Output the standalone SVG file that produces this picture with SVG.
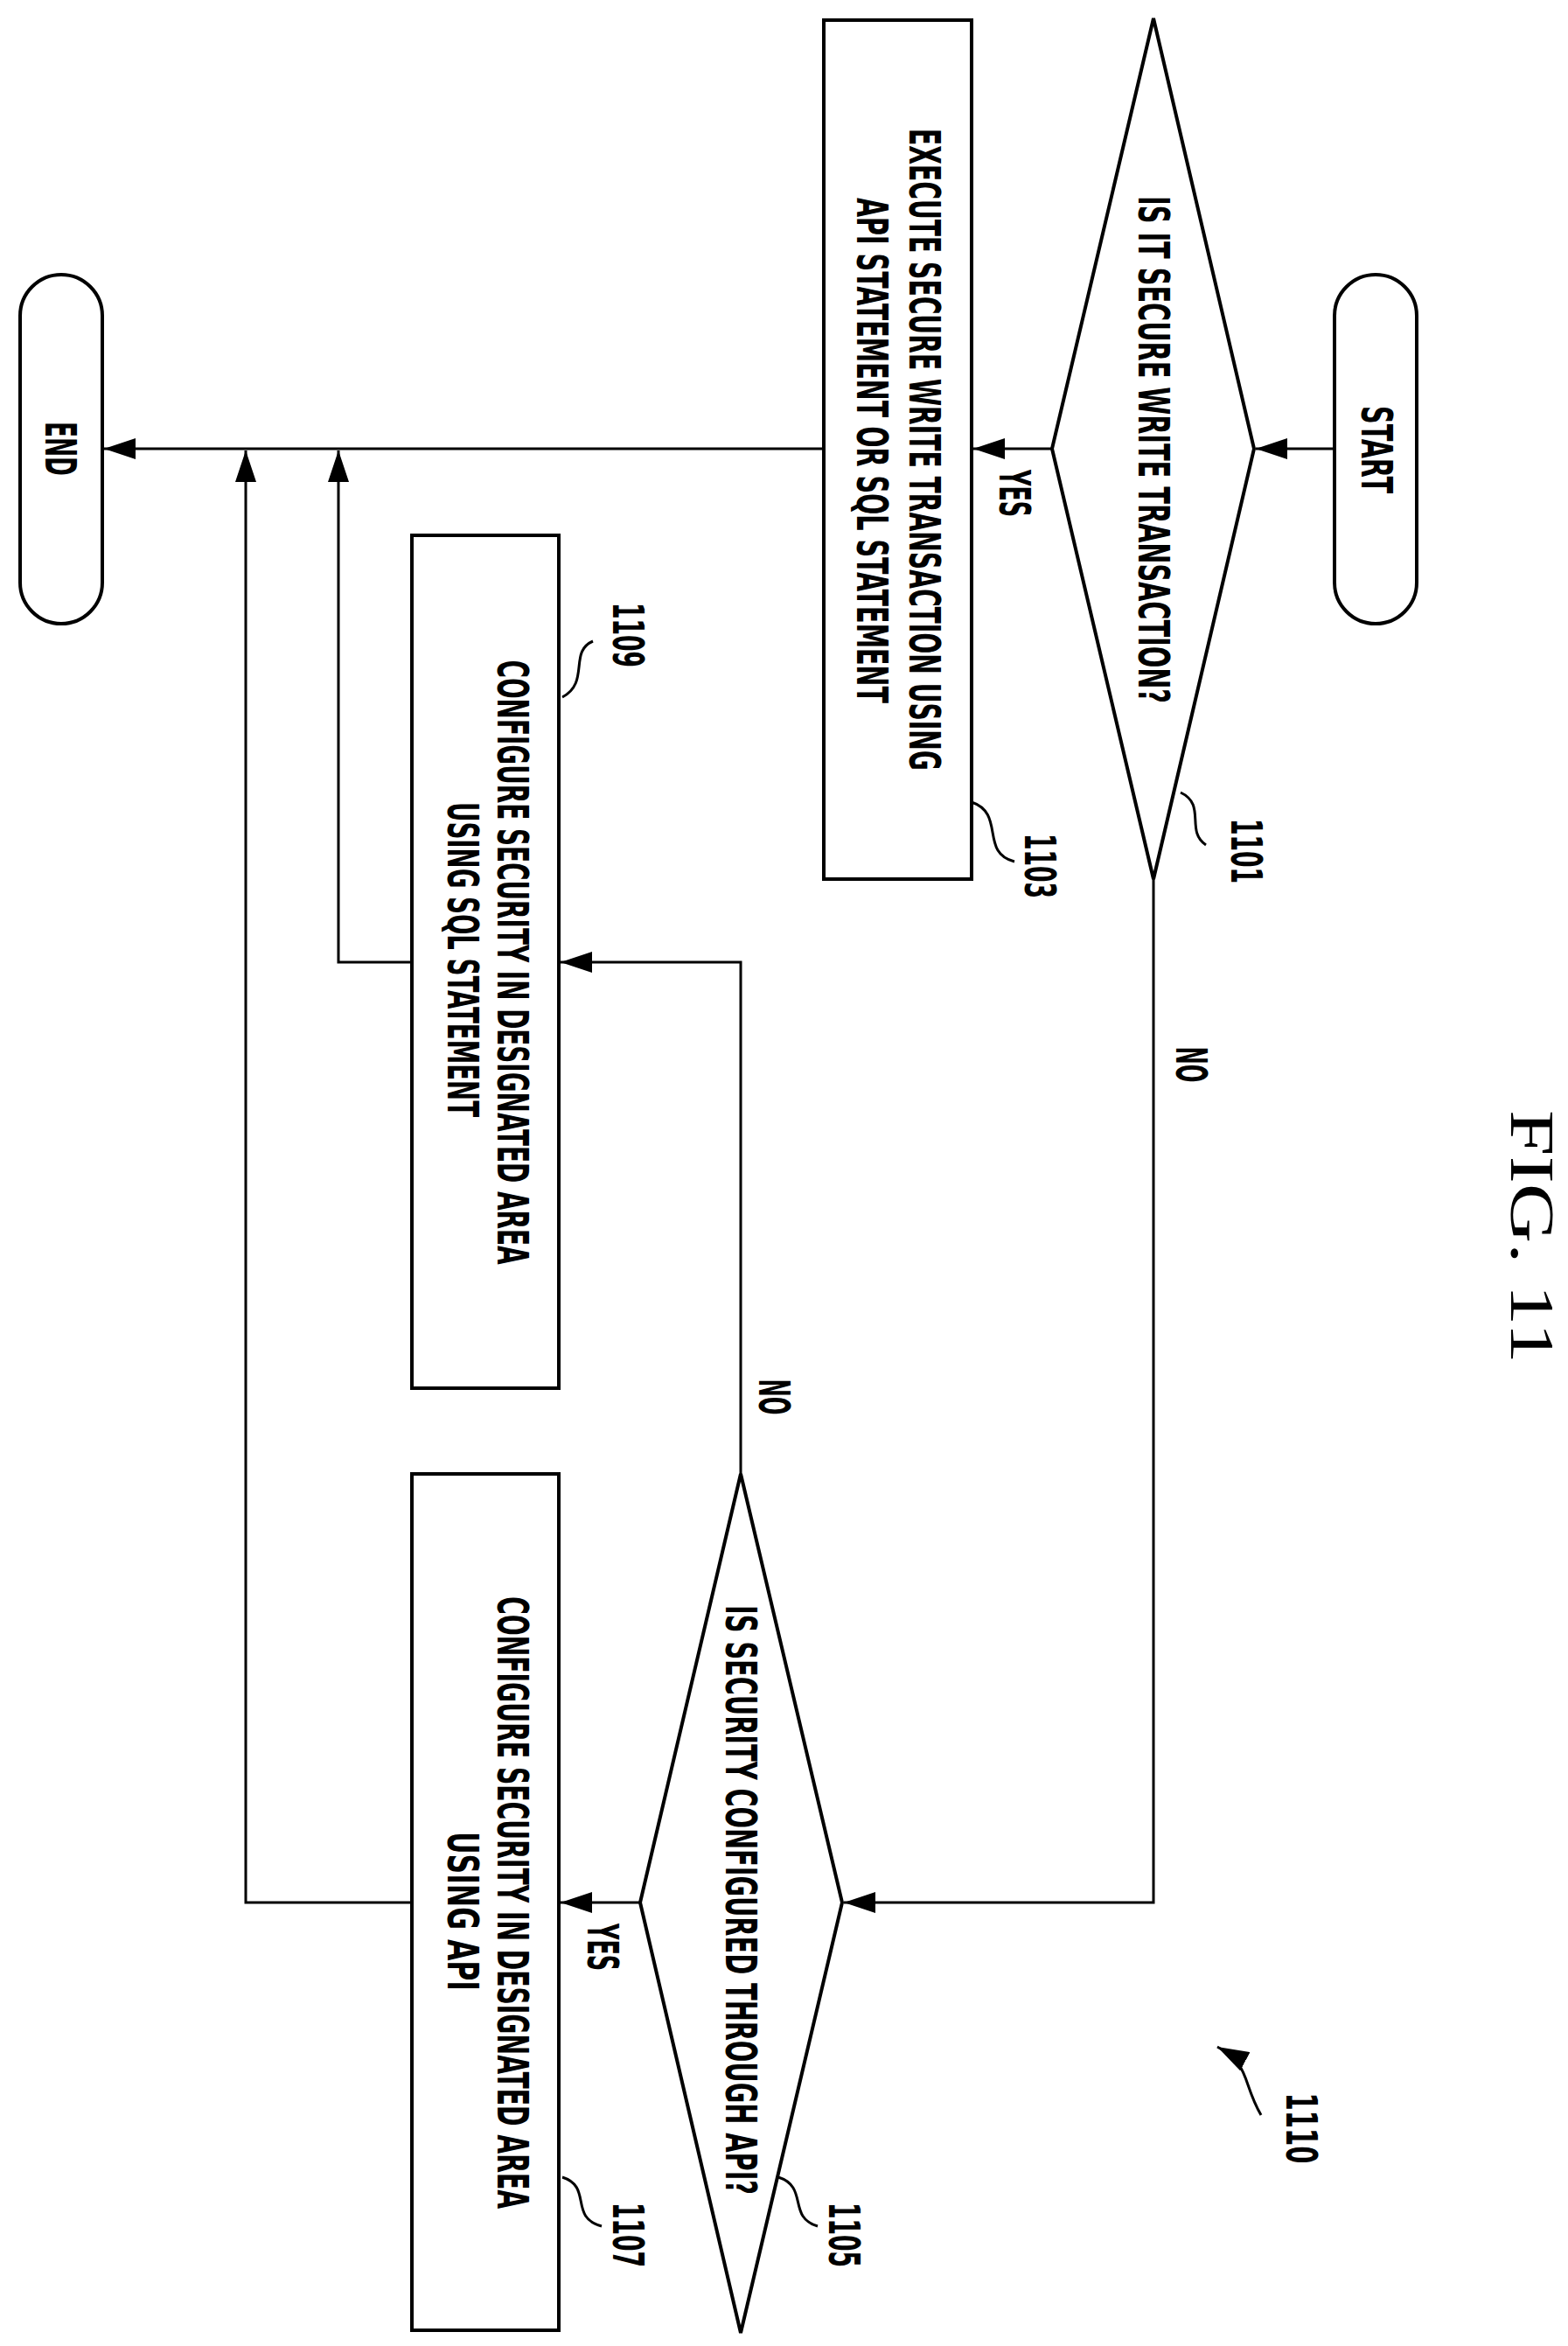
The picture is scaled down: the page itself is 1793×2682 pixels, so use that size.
<svg xmlns="http://www.w3.org/2000/svg" width="1793" height="2682" viewBox="0 0 1793 2682">
<style>
.s{fill:none;stroke:#000;stroke-width:4}
.t{font-family:"DejaVu Sans Condensed","DejaVu Sans",sans-serif;font-weight:bold;font-size:50px;text-anchor:middle;dominant-baseline:central}
.c{stroke:#000;stroke-width:3;fill:none}
</style>
<defs>
<marker id="a" markerWidth="12" markerHeight="10" refX="11" refY="5" orient="auto" markerUnits="userSpaceOnUse" viewBox="0 0 12 10"><path d="M0,0L12,5L0,10z" fill="#000"/></marker>
<marker id="b" markerWidth="36" markerHeight="24" refX="36" refY="12" orient="auto" markerUnits="userSpaceOnUse" viewBox="0 0 36 24"><path d="M0,0L36,12L0,24z" fill="#000"/></marker>
</defs>
<rect width="1793" height="2682" fill="#fff"/>
<g id="connectors">
<line class="c" x1="1526" y1="513" x2="1436" y2="513" marker-end="url(#b)"/>
<line class="c" x1="1203" y1="513" x2="1113" y2="513" marker-end="url(#b)"/>
<line class="c" x1="942" y1="513" x2="119" y2="513" marker-end="url(#b)"/>
<polyline class="c" points="1319,1005 1319,2175 965,2175" marker-end="url(#b)"/>
<polyline class="c" points="847,1685 847,1100 641,1100" marker-end="url(#b)"/>
<line class="c" x1="732" y1="2175" x2="641" y2="2175" marker-end="url(#b)"/>
<polyline class="c" points="471,1100 387,1100 387,515" marker-end="url(#b)"/>
<polyline class="c" points="471,2175 281,2175 281,515" marker-end="url(#b)"/>
<path class="c" d="M1350,906 C1380,920 1355,950 1379,966"/>
<path class="c" d="M1111,917 C1150,930 1120,975 1160,985"/>
<path class="c" d="M643,797 C675,780 650,745 678,733"/>
<path class="c" d="M890,2489 C925,2500 900,2535 935,2545"/>
<path class="c" d="M643,2489 C678,2500 650,2535 688,2545"/>
<path class="c" d="M1442,2418 C1420,2380 1430,2360 1392,2340" marker-end="url(#b)"/>
</g>
<g id="start"><rect class="s" x="1526" y="314" width="94" height="399" rx="47"/><text class="t" transform="translate(1574,514) rotate(90)" textLength="100" lengthAdjust="spacingAndGlyphs">START</text></g>
<g id="n1101"><polygon class="s" points="1319,21 1434,513 1319,1005 1203,513"/><text class="t" transform="translate(1319,514) rotate(90)" textLength="580" lengthAdjust="spacingAndGlyphs">IS IT SECURE WRITE TRANSACTION?</text><text class="t" transform="translate(1425,973) rotate(90)" textLength="74" lengthAdjust="spacingAndGlyphs">1101</text></g>
<g id="n1103"><rect class="s" x="942" y="23" width="169" height="982"/><text class="t" transform="translate(1057,514) rotate(90)" textLength="734" lengthAdjust="spacingAndGlyphs">EXECUTE SECURE WRITE TRANSACTION USING</text><text class="t" transform="translate(997,515) rotate(90)" textLength="578" lengthAdjust="spacingAndGlyphs">API STATEMENT OR SQL STATEMENT</text><text class="t" transform="translate(1189,990) rotate(90)" textLength="74" lengthAdjust="spacingAndGlyphs">1103</text></g>
<g id="end"><rect class="s" x="23" y="314" width="94" height="399" rx="47"/><text class="t" transform="translate(69,513) rotate(90)" textLength="62" lengthAdjust="spacingAndGlyphs">END</text></g>
<g id="n1109"><rect class="s" x="471" y="612" width="168" height="975"/><text class="t" transform="translate(586,1100) rotate(90)" textLength="691" lengthAdjust="spacingAndGlyphs">CONFIGURE SECURITY IN DESIGNATED AREA</text><text class="t" transform="translate(529,1097) rotate(90)" textLength="360" lengthAdjust="spacingAndGlyphs">USING SQL STATEMENT</text><text class="t" transform="translate(718,726) rotate(90)" textLength="74" lengthAdjust="spacingAndGlyphs">1109</text></g>
<g id="n1105"><polygon class="s" points="847,1685 963,2175 847,2667 732,2175"/><text class="t" transform="translate(847,2172) rotate(90)" textLength="674" lengthAdjust="spacingAndGlyphs">IS SECURITY CONFIGURED THROUGH API?</text><text class="t" transform="translate(965,2555) rotate(90)" textLength="74" lengthAdjust="spacingAndGlyphs">1105</text></g>
<g id="n1107"><rect class="s" x="471" y="1685" width="168" height="979"/><text class="t" transform="translate(586,2175) rotate(90)" textLength="700" lengthAdjust="spacingAndGlyphs">CONFIGURE SECURITY IN DESIGNATED AREA</text><text class="t" transform="translate(529,2185) rotate(90)" textLength="182" lengthAdjust="spacingAndGlyphs">USING API</text><text class="t" transform="translate(718,2555) rotate(90)" textLength="74" lengthAdjust="spacingAndGlyphs">1107</text></g>
<g id="labels">
<text class="t" transform="translate(1160,564) rotate(90)" textLength="54" lengthAdjust="spacingAndGlyphs">YES</text>
<text class="t" transform="translate(1362,1217) rotate(90)" textLength="41" lengthAdjust="spacingAndGlyphs">NO</text>
<text class="t" transform="translate(885,1597) rotate(90)" textLength="41" lengthAdjust="spacingAndGlyphs">NO</text>
<text class="t" transform="translate(689,2226) rotate(90)" textLength="54" lengthAdjust="spacingAndGlyphs">YES</text>
<text class="t" transform="translate(1488,2433) rotate(90)" textLength="81" lengthAdjust="spacingAndGlyphs">1110</text>
<text transform="translate(1752,1414) rotate(90)" font-family="Liberation Serif,serif" font-size="72" text-anchor="middle" dominant-baseline="central" textLength="290" lengthAdjust="spacingAndGlyphs">FIG. 11</text>
</g>
</svg>
